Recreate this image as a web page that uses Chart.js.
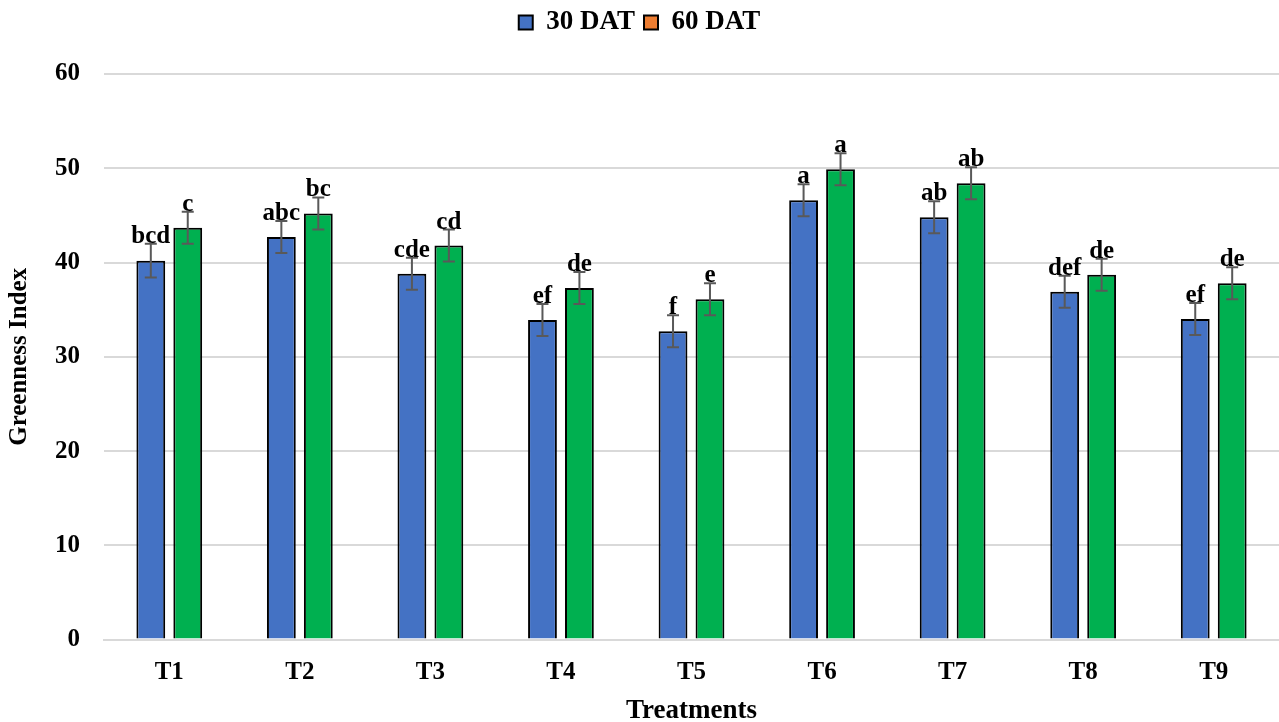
<!DOCTYPE html>
<html>
<head>
<meta charset="utf-8">
<script src="https://cdn.jsdelivr.net/npm/chart.js@4"></script>
<style>
  body { margin: 0; background: #fff; }
  #wrap { width: 1279px; height: 722px; }
</style>
</head>
<body>
<div id="wrap"><canvas id="myChart-Greenness"></canvas></div>
<script>
const treatments = ['T1', 'T2', 'T3', 'T4', 'T5', 'T6', 'T7', 'T8', 'T9'];
const dat30 = [40.2, 42.7, 38.8, 33.9, 32.7, 46.6, 44.8, 36.9, 34.0];
const dat60 = [43.7, 45.2, 41.8, 37.3, 36.1, 49.9, 48.4, 38.7, 37.8];
const err30 = [1.8, 1.7, 1.7, 1.7, 1.7, 1.7, 1.7, 1.7, 1.7];
const err60 = [1.7, 1.7, 1.7, 1.7, 1.7, 1.7, 1.7, 1.7, 1.7];
const letters30 = ['bcd', 'abc', 'cde', 'ef', 'f', 'a', 'ab', 'def', 'ef'];
const letters60 = ['c', 'bc', 'cd', 'de', 'e', 'a', 'ab', 'de', 'de'];

const serif = '"Liberation Serif", "Times New Roman", serif';

// extra room under the legend
const legendMargin = {
  id: 'legendMargin',
  beforeInit(chart) {
    const fit = chart.legend.fit;
    chart.legend.fit = function () {
      fit.bind(chart.legend)();
      this.height += 28;
    };
  }
};

// error bars and significance letters
const errorBars = {
  id: 'errorBars',
  afterDatasetsDraw(chart) {
    const ctx = chart.ctx;
    const y = chart.scales.y;
    chart.data.datasets.forEach((ds, i) => {
      const meta = chart.getDatasetMeta(i);
      meta.data.forEach((bar, j) => {
        const v = ds.data[j];
        const e = ds.errors[j];
        const top = y.getPixelForValue(v + e);
        const bot = y.getPixelForValue(v - e);
        ctx.save();
        ctx.strokeStyle = '#595959';
        ctx.lineWidth = 2;
        ctx.beginPath();
        ctx.moveTo(bar.x, top); ctx.lineTo(bar.x, bot);
        ctx.moveTo(bar.x - 6, top); ctx.lineTo(bar.x + 6, top);
        ctx.moveTo(bar.x - 6, bot); ctx.lineTo(bar.x + 6, bot);
        ctx.stroke();
        ctx.fillStyle = '#000';
        ctx.font = 'bold 25px ' + serif;
        ctx.textAlign = 'center';
        ctx.textBaseline = 'alphabetic';
        ctx.fillText(ds.letters[j], bar.x, top - 1);
        ctx.restore();
      });
    });
  }
};

new Chart(document.getElementById('myChart-Greenness'), {
  type: 'bar',
  data: {
    labels: treatments,
    datasets: [
      {
        label: '30 DAT',
        data: dat30,
        errors: err30,
        letters: letters30,
        backgroundColor: '#4472C4',
        borderColor: '#000',
        borderWidth: 2,
        borderSkipped: 'bottom',
        legendColor: '#4472C4'
      }, {
        label: '60 DAT',
        data: dat60,
        errors: err60,
        letters: letters60,
        backgroundColor: '#00B050',
        borderColor: '#000',
        borderWidth: 2,
        borderSkipped: 'bottom',
        legendColor: '#ED7D31'
      }]
  },
  options: {
    responsive: true,
    maintainAspectRatio: false,
    animation: false,
    categoryPercentage: 0.566,
    barPercentage: 0.78,
    layout: { padding: { left: 0, right: 0, top: 0, bottom: 0 } },
    plugins: {
      tooltip: { enabled: false },
      legend: {
        position: 'top',
        labels: {
          font: { family: serif, size: 27, weight: 'bold' },
          color: '#000',
          boxWidth: 14,
          boxHeight: 14,
          padding: 9,
          generateLabels(chart) {
            return chart.data.datasets.map((ds, i) => ({
              text: ds.label,
              fillStyle: ds.legendColor,
              strokeStyle: '#000',
              lineWidth: 2,
              datasetIndex: i
            }));
          }
        }
      }
    },
    scales: {
      x: {
        grid: { display: false },
        border: { color: '#d9d9d9', width: 2 },
        ticks: { font: { family: serif, size: 25, weight: 'bold' }, color: '#000', padding: 10 },
        title: {
          display: true,
          text: 'Treatments',
          font: { family: serif, size: 27, weight: 'bold' },
          color: '#000',
          padding: { top: -3, bottom: -5 }
        }
      },
      y: {
        min: 0,
        max: 60,
        ticks: { stepSize: 10, font: { family: serif, size: 25, weight: 'bold' }, color: '#000', padding: 24 },
        grid: { color: '#d9d9d9', lineWidth: 2, drawTicks: false },
        border: { display: false },
        title: {
          display: true,
          text: 'Greenness Index',
          font: { family: serif, size: 25, weight: 'bold' },
          color: '#000',
          padding: { top: 5, bottom: -4 }
        }
      }
    }
  },
  plugins: [legendMargin, errorBars]
});
</script>
</body>
</html>
